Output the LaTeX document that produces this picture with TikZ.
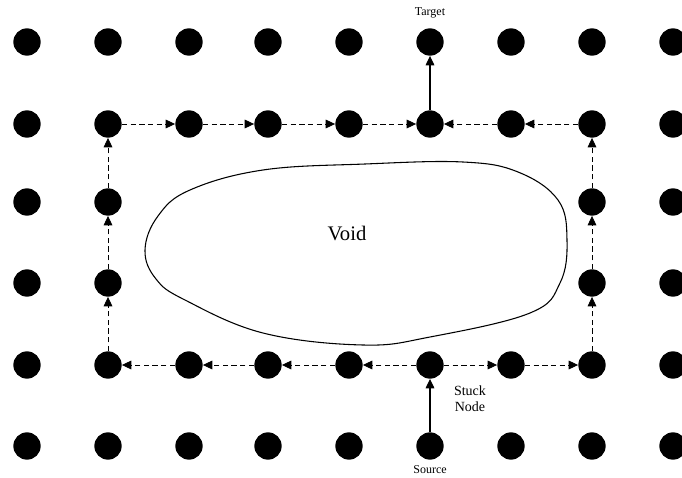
\documentclass[tikz,border=0pt]{standalone}
\usepackage{fontspec}
\setmainfont{Liberation Serif}
\usetikzlibrary{arrows.meta}
\begin{document}
\begin{tikzpicture}[x=0.75pt,y=-0.75pt,
  dot/.style={circle,fill=black,draw=none,inner sep=0pt,minimum size=20.5pt},
  hop/.style={-{Triangle[length=7pt,width=6.5pt]},line width=0.6pt,dash pattern=on 4pt off 2.5pt},
  direct/.style={-{Triangle[length=7pt,width=6.5pt]},line width=0.8pt},
  lbl/.style={font=\fontsize{9}{10}\selectfont,inner sep=0pt}]
\useasboundingbox (0,0) rectangle (682,478);
% grid of sensor nodes; the void leaves rows 3 and 4 empty between columns 3 and 7
\foreach \c/\x in {1/27,2/108,3/189,4/268,5/349,6/430,7/511,8/592,9/673}
  \foreach \r/\y in {1/42,2/124,3/202,4/283,5/365,6/446} {
    \pgfmathtruncatemacro{\inside}{(\r==3 || \r==4) && \c>2 && \c<8 ? 1 : 0}
    \ifnum\inside=0
      \node[dot] (n-\c-\r) at (\x,\y) {};
    \fi
  }
% the void region
\draw[line width=0.8pt] plot[smooth cycle,tension=0.65] coordinates {
  (145,250) (158,216) (190,190) (263,170) (365,164) (463,162) (518,172) (558,200)
  (567,240) (560,283) (530,313) (430,337) (363,345) (263,333) (185,300) (156,279)};
\node[font=\fontsize{15.5}{17}\selectfont] (void) at (347,233) {Void};
% labels
\node[lbl] (target) at (430,13) {Target};
\node[lbl] (source) at (430,470) {Source};
\node[lbl,align=center,font=\fontsize{10.5}{12}\selectfont] (stuck) at (470,399) {Stuck\\Node};
% greedy hops
\draw[direct] (n-6-6) -- (n-6-5);
\draw[direct] (n-6-2) -- (n-6-1);
% perimeter routing, left side
\draw[hop] (n-6-5) -- (n-5-5);
\draw[hop] (n-5-5) -- (n-4-5);
\draw[hop] (n-4-5) -- (n-3-5);
\draw[hop] (n-3-5) -- (n-2-5);
\draw[hop] (n-2-5) -- (n-2-4);
\draw[hop] (n-2-4) -- (n-2-3);
\draw[hop] (n-2-3) -- (n-2-2);
\draw[hop] (n-2-2) -- (n-3-2);
\draw[hop] (n-3-2) -- (n-4-2);
\draw[hop] (n-4-2) -- (n-5-2);
\draw[hop] (n-5-2) -- (n-6-2);
% perimeter routing, right side
\draw[hop] (n-6-5) -- (n-7-5);
\draw[hop] (n-7-5) -- (n-8-5);
\draw[hop] (n-8-5) -- (n-8-4);
\draw[hop] (n-8-4) -- (n-8-3);
\draw[hop] (n-8-3) -- (n-8-2);
\draw[hop] (n-8-2) -- (n-7-2);
\draw[hop] (n-7-2) -- (n-6-2);
\end{tikzpicture}
\end{document}
